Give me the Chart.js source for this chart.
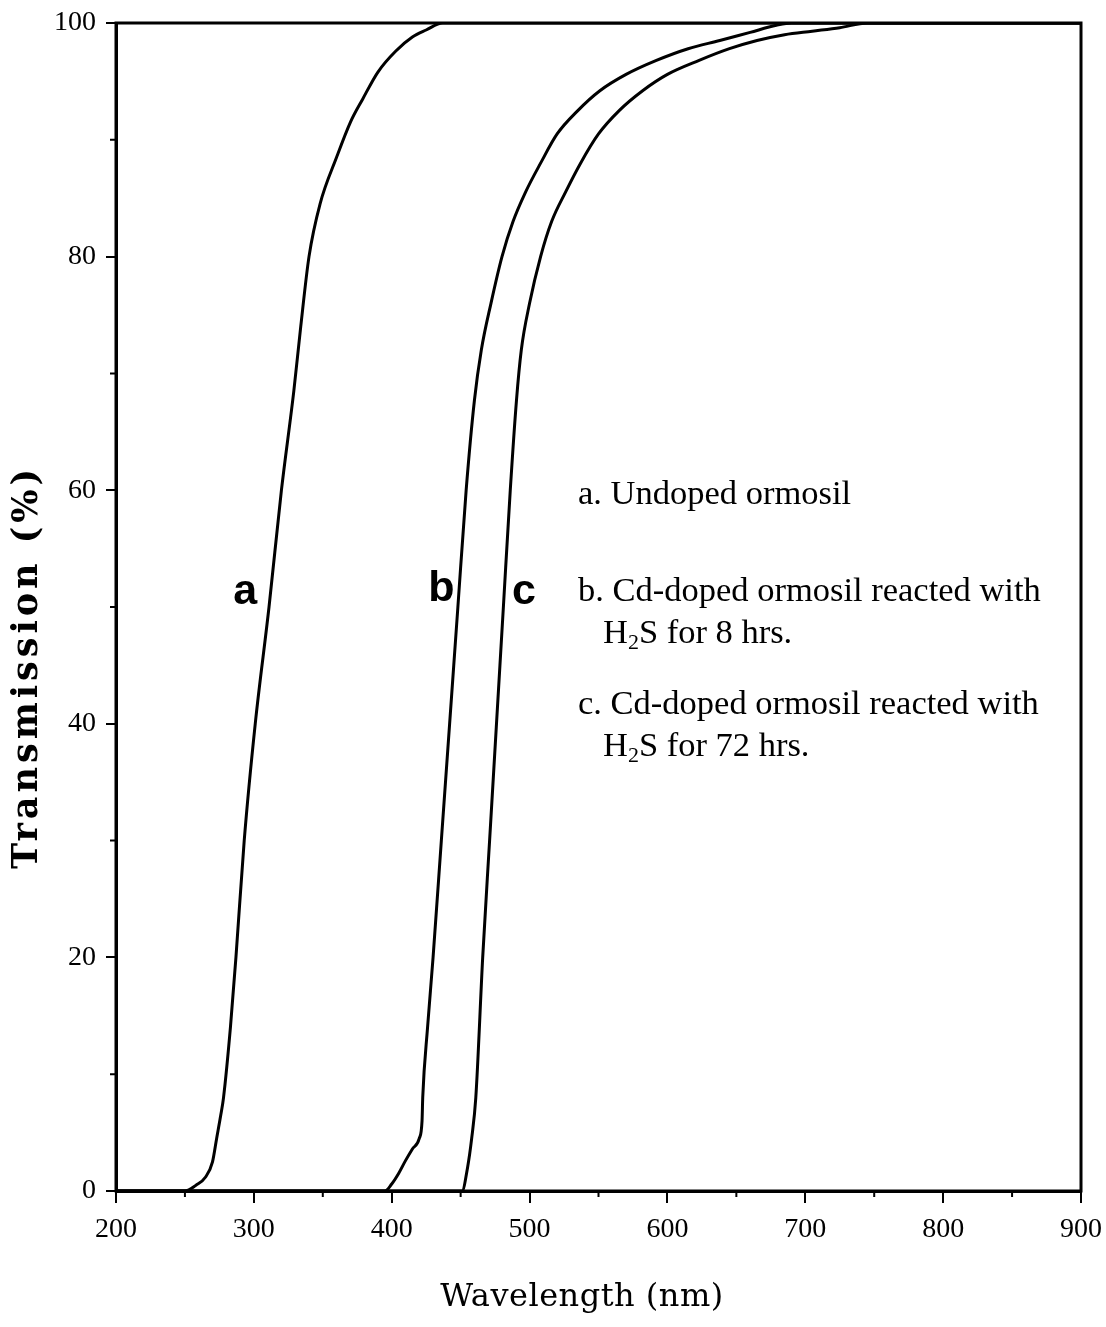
<!DOCTYPE html>
<html>
<head>
<meta charset="utf-8">
<script src="https://cdn.jsdelivr.net/npm/chart.js@4.4.1/dist/chart.umd.min.js"></script>
<style>
  html, body { margin: 0; padding: 0; background: #fff; }
  canvas { display: block; }
</style>
</head>
<body>
<canvas id="spectra" width="1106" height="1327"></canvas>
<script>
// Transmission spectra (wavelength in nm, transmission in %)
const curveA = [
  [200, 0], [250, 0], [258, 0.5], [265, 1.2], [270, 2.5], [273, 4.5], [276, 6.5],
  [278, 8], [283, 14], [287, 20], [293, 30], [301, 40], [311, 50], [320, 60],
  [329, 68.5], [334, 74], [340, 80], [348, 84.5], [360, 88.5], [370, 91.5],
  [379, 93.5], [390, 95.8], [403, 97.6], [415, 98.8], [425, 99.4], [437, 100], [900, 100]
];
const curveB = [
  [200, 0], [395, 0], [400, 0.6], [405, 1.5], [410, 2.6], [415, 3.6], [420, 4.5],
  [422, 6], [422.5, 8], [426, 14], [430, 20], [436, 30], [442, 40], [448, 50],
  [454, 60], [460, 67.7], [465, 72], [472, 76], [480, 80], [488, 83], [497, 85.5],
  [508, 88], [520, 90.5], [535, 92.5], [551, 94.2], [570, 95.6], [592, 96.8],
  [615, 97.8], [638, 98.5], [660, 99.2], [679, 99.8], [690, 100], [900, 100]
];
const curveC = [
  [200, 0], [451, 0], [455, 2], [458, 4.5], [461, 8], [466, 20], [471, 30],
  [476, 40], [481, 50], [486, 60], [490.5, 67.7], [494, 72], [500, 76], [508, 80],
  [516, 83], [526, 85.5], [537, 88], [550, 90.5], [565, 92.5], [582, 94.2],
  [600, 95.6], [623, 96.8], [645, 97.8], [665, 98.5], [685, 99], [705, 99.3],
  [725, 99.6], [745, 100], [900, 100]
];

// curve letters placed next to each trace (nm, %)
const curveLetters = ['a', 'b', 'c'];
const letterPos = [[293.7, 51.3], [436, 51.5], [496, 51.3]];

// legend lines on the right
const legendLines = [
  ['a. Undoped ormosil'],
  ['b. Cd-doped ormosil reacted with', 'H|2|S for 8 hrs.'],
  ['c. Cd-doped ormosil reacted with', 'H|2|S for 72 hrs.']
];

const xTitle = 'Wavelength (nm)';
const yTitle = 'Transmission (%)';

const toPoints = arr => arr.map(p => ({ x: p[0], y: p[1] }));

function lineSet(arr) {
  return {
    data: toPoints(arr),
    borderColor: '#000',
    borderWidth: 3,
    pointRadius: 0,
    fill: false,
    cubicInterpolationMode: 'monotone'
  };
}

// frame, minor ticks, curve letters, legend text and axis titles
const extras = {
  id: 'extras',
  afterDraw(chart) {
    const ctx = chart.ctx;
    const { left, right, top, bottom } = chart.chartArea;
    const xs = chart.scales.x, ys = chart.scales.y;
    ctx.save();
    ctx.strokeStyle = '#000';
    ctx.lineWidth = 3;
    ctx.strokeRect(left, top, right - left, bottom - top);

    // minor ticks
    ctx.lineWidth = 2;
    ctx.beginPath();
    for (let v = 250; v < 900; v += 100) {
      const px = xs.getPixelForValue(v);
      ctx.moveTo(px, bottom);
      ctx.lineTo(px, bottom + 6);
    }
    for (let v = 10; v < 100; v += 20) {
      const py = ys.getPixelForValue(v);
      ctx.moveTo(left, py);
      ctx.lineTo(left - 6, py);
    }
    ctx.stroke();

    // letters on the curves
    ctx.fillStyle = '#000';
    ctx.font = 'bold 43px "Liberation Sans", Arial, sans-serif';
    ctx.textAlign = 'center';
    ctx.textBaseline = 'middle';
    curveLetters.forEach((t, i) => {
      ctx.fillText(t, xs.getPixelForValue(letterPos[i][0]), ys.getPixelForValue(letterPos[i][1]));
    });

    // legend block
    ctx.textAlign = 'left';
    ctx.textBaseline = 'alphabetic';
    const base = [504, 601, 643, 714, 756];
    let row = 0;
    legendLines.forEach(group => {
      group.forEach((line, j) => {
        const x = j === 0 ? 578 : 603;
        const y = base[row++];
        const parts = line.split('|');
        let cx = x;
        parts.forEach((p, k) => {
          const sub = parts.length === 3 && k === 1;
          ctx.font = (sub ? '22px' : '34.5px') + ' "Liberation Serif", "Times New Roman", serif';
          ctx.fillText(p, cx, sub ? y + 6 : y);
          cx += ctx.measureText(p).width;
        });
      });
    });

    // axis titles
    ctx.textAlign = 'center';
    ctx.textBaseline = 'middle';
    ctx.font = '32px "DejaVu Serif", serif';
    ctx.letterSpacing = '0.5px';
    ctx.fillText(xTitle, 582, 1298);

    ctx.translate(28, 667);
    ctx.rotate(-Math.PI / 2);
    ctx.font = 'bold 35px "DejaVu Serif", serif';
    ctx.letterSpacing = '4px';
    ctx.fillText(yTitle, 0, 0);
    ctx.restore();
  }
};

new Chart(document.getElementById('spectra'), {
  type: 'line',
  data: { datasets: [lineSet(curveA), lineSet(curveB), lineSet(curveC)] },
  options: {
    responsive: false,
    animation: false,
    devicePixelRatio: 1,
    layout: { padding: { top: 23, right: 25, left: 0, bottom: 0 } },
    plugins: { legend: { display: false }, tooltip: { enabled: false } },
    scales: {
      x: {
        type: 'linear',
        min: 200,
        max: 900,
        afterFit: s => { s.height = 136; s.paddingLeft = 0; s.paddingRight = 0; },
        border: { color: '#000', width: 3 },
        grid: { drawOnChartArea: false, color: '#000', lineWidth: 2, tickLength: 12 },
        ticks: {
          stepSize: 100,
          color: '#000',
          padding: 10,
          font: { family: '"Liberation Serif", "Times New Roman", serif', size: 28 }
        }
      },
      y: {
        min: 0,
        max: 100,
        afterFit: s => { s.width = 116; s.paddingTop = 0; s.paddingBottom = 0; },
        border: { color: '#000', width: 3 },
        grid: { drawOnChartArea: false, color: '#000', lineWidth: 2, tickLength: 10 },
        ticks: {
          stepSize: 20,
          color: '#000',
          padding: 10,
          font: { family: '"Liberation Serif", "Times New Roman", serif', size: 28 }
        }
      }
    }
  },
  plugins: [extras]
});
</script>
</body>
</html>
